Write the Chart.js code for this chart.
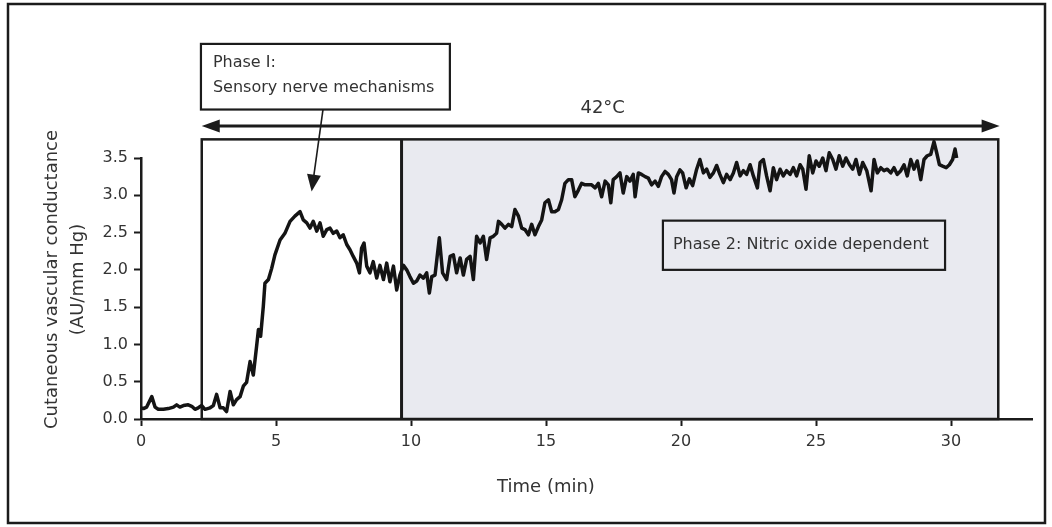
<!DOCTYPE html>
<html>
<head>
<meta charset="utf-8">
<script src="https://cdn.jsdelivr.net/npm/chart.js@4/dist/chart.umd.min.js"></script>
<style>
  html, body { margin:0; padding:0; background:#fff; }
  canvas { display:block; }
</style>
</head>
<body>
<canvas id="cvcChart" width="1052" height="527"></canvas>
<script>
'use strict';
// ---- Data ----
const timeMin = [
  0.00,0.09,0.21,0.40,0.52,0.64,0.83,1.01,1.20,1.32,1.44,1.57,1.75,1.88,2.00,2.12,2.25,2.37,2.56,2.68,
  2.80,2.93,3.05,3.17,3.30,3.42,3.54,3.67,3.79,3.91,4.04,4.16,4.28,4.35,4.43,4.53,4.59,4.72,4.84,4.96,
  5.15,5.33,5.52,5.70,5.89,6.01,6.14,6.26,6.38,6.51,6.63,6.75,6.88,7.00,7.12,7.25,7.37,7.49,7.62,7.74,
  7.86,7.99,8.09,8.17,8.26,8.36,8.48,8.60,8.73,8.85,8.98,9.10,9.22,9.35,9.47,9.59,9.72,9.84,
  9.96,10.09,10.21,10.33,10.46,10.58,10.68,10.77,10.89,11.05,11.17,11.32,11.45,11.57,11.69,11.82,11.94,12.06,12.19,12.31,
  12.43,12.56,12.68,12.80,12.93,13.05,13.17,13.24,13.36,13.48,13.61,13.73,13.85,13.98,14.10,14.22,14.35,14.47,14.59,14.72,
  14.84,14.96,15.09,15.21,15.33,15.46,15.58,15.70,15.83,15.95,16.07,16.20,16.32,16.45,16.57,16.69,16.82,16.94,17.06,17.19,
  17.31,17.40,17.49,17.62,17.74,17.86,17.99,18.11,18.23,18.30,18.42,18.54,18.67,18.79,18.91,19.04,19.16,19.28,19.41,19.53,
  19.65,19.74,19.84,19.96,
  20.06,20.19,20.31,20.43,20.58,20.70,20.83,20.95,21.07,21.20,21.32,21.44,21.57,21.69,21.82,21.94,22.06,22.19,22.31,22.43,
  22.56,22.68,22.83,22.93,23.05,23.17,23.30,23.42,23.54,23.67,23.79,23.91,24.04,24.16,24.28,24.41,24.51,24.63,24.75,24.88,
  25.00,25.12,25.25,25.37,25.49,25.62,25.74,25.86,25.99,26.11,26.24,26.36,26.48,26.61,26.73,26.88,27.04,27.15,27.27,27.40,
  27.52,27.64,27.77,27.89,28.01,28.14,28.26,28.38,28.51,28.63,28.75,28.88,29.00,29.12,29.25,29.37,29.47,29.57,29.69,29.82,
  29.94,30.06,30.15,30.21
];
const conductance = [
  0.15,0.14,0.16,0.30,0.16,0.13,0.13,0.14,0.16,0.19,0.16,0.18,0.19,0.17,0.13,0.15,0.18,0.13,0.15,0.18,
  0.33,0.15,0.15,0.10,0.37,0.19,0.26,0.30,0.44,0.49,0.77,0.59,0.97,1.20,1.11,1.51,1.82,1.87,2.02,2.20,
  2.40,2.49,2.65,2.72,2.78,2.67,2.63,2.56,2.65,2.52,2.63,2.45,2.54,2.56,2.49,2.52,2.43,2.47,2.34,2.27,
  2.18,2.09,1.96,2.29,2.36,2.05,1.96,2.11,1.89,2.06,1.87,2.09,1.84,2.05,1.73,1.93,2.06,2.00,
  1.91,1.82,1.85,1.93,1.89,1.96,1.69,1.91,1.93,2.43,1.96,1.87,2.18,2.20,1.96,2.16,1.93,2.14,2.18,1.87,
  2.45,2.36,2.45,2.14,2.43,2.45,2.49,2.65,2.61,2.56,2.61,2.58,2.81,2.72,2.56,2.54,2.47,2.61,2.47,2.58,
  2.67,2.90,2.94,2.78,2.78,2.81,2.94,3.16,3.21,3.21,2.98,3.07,3.16,3.14,3.14,3.14,3.10,3.16,2.98,3.19,
  3.14,2.90,3.21,3.25,3.30,3.03,3.25,3.19,3.28,2.98,3.30,3.28,3.25,3.23,3.14,3.19,3.12,3.25,3.32,3.28,
  3.21,3.03,3.25,3.34,
  3.30,3.10,3.22,3.13,3.35,3.48,3.30,3.35,3.24,3.30,3.40,3.28,3.17,3.28,3.21,3.30,3.44,3.26,3.33,3.28,
  3.41,3.26,3.10,3.44,3.48,3.26,3.06,3.37,3.21,3.35,3.26,3.33,3.28,3.37,3.26,3.41,3.35,3.08,3.53,3.30,
  3.46,3.39,3.50,3.33,3.57,3.48,3.35,3.53,3.39,3.50,3.41,3.35,3.48,3.28,3.44,3.33,3.06,3.48,3.30,3.37,
  3.33,3.35,3.30,3.37,3.28,3.33,3.41,3.26,3.48,3.35,3.46,3.21,3.48,3.53,3.55,3.72,3.57,3.41,3.39,3.37,
  3.41,3.48,3.62,3.50
];
const xTicks = [0, 5, 10, 15, 20, 25, 30];
const yTicks = [0, 0.5, 1.0, 1.5, 2.0, 2.5, 3.0, 3.5];

// phases (min) and annotation levels (AU/mm Hg)
const HEAT_START = 2.25, PHASE_SPLIT = 9.65, HEAT_END = 31.75;
const BOX_TOP = 3.75, ARROW_LEVEL = 3.93;

const INK = '#1b1b1b', TXT = '#333', SHADE = '#e9eaf0';
const FONT = "'DejaVu Sans', sans-serif";

// ---- Helpers ----
function arrowHead(ctx, x, y, ang, len, half) {
  ctx.save(); ctx.translate(x, y); ctx.rotate(ang);
  ctx.beginPath(); ctx.moveTo(0, 0); ctx.lineTo(-len, -half); ctx.lineTo(-len, half); ctx.closePath();
  ctx.fill(); ctx.restore();
}

// ---- Phase boxes, arrows, labels ----
const annotate = {
  id: 'annotate',
  beforeDatasetsDraw(chart) {
    const { ctx, scales:{ x, y } } = chart;
    const top = y.getPixelForValue(BOX_TOP), bot = y.getPixelForValue(0);
    const x0 = x.getPixelForValue(HEAT_START), x1 = x.getPixelForValue(PHASE_SPLIT), x2 = x.getPixelForValue(HEAT_END);
    ctx.save();
    ctx.fillStyle = SHADE; ctx.fillRect(x1, top, x2 - x1, bot - top);
    ctx.strokeStyle = INK;
    ctx.lineWidth = 2.5; ctx.strokeRect(x0, top, x2 - x0, bot - top);
    ctx.lineWidth = 3;
    ctx.beginPath(); ctx.moveTo(x1, top); ctx.lineTo(x1, bot); ctx.stroke();
    ctx.restore();
  },
  afterDraw(chart) {
    const { ctx, scales:{ x, y } } = chart;
    ctx.save();
    ctx.strokeStyle = INK; ctx.fillStyle = INK;

    // 42°C double arrow
    const ay = y.getPixelForValue(ARROW_LEVEL);
    const ax0 = x.getPixelForValue(HEAT_START), ax1 = x.getPixelForValue(HEAT_END + 0.05);
    ctx.lineWidth = 3;
    ctx.beginPath(); ctx.moveTo(ax0 + 10, ay); ctx.lineTo(ax1 - 10, ay); ctx.stroke();
    arrowHead(ctx, ax0, ay, Math.PI, 18, 6.5);
    arrowHead(ctx, ax1, ay, 0, 18, 6.5);
    ctx.fillStyle = TXT; ctx.font = `18px ${FONT}`;
    ctx.textAlign = 'center'; ctx.textBaseline = 'middle';
    ctx.fillText('42°C', (ax0 + ax1) / 2 + 2, ay - 18);

    // Phase I callout
    const bx0 = x.getPixelForValue(2.22), bx1 = x.getPixelForValue(11.44);
    const by0 = y.getPixelForValue(5.03), by1 = y.getPixelForValue(4.15);
    ctx.fillStyle = '#fff'; ctx.fillRect(bx0, by0, bx1 - bx0, by1 - by0);
    ctx.lineWidth = 2.2; ctx.strokeRect(bx0, by0, bx1 - bx0, by1 - by0);
    ctx.fillStyle = TXT; ctx.font = `16px ${FONT}`; ctx.textAlign = 'left';
    ctx.fillText('Phase I:', bx0 + 12, by0 + 19);
    ctx.fillText('Sensory nerve mechanisms', bx0 + 12, by0 + 44);
    const sx = x.getPixelForValue(6.74), sy = by1;
    const tx = x.getPixelForValue(6.32), ty = y.getPixelForValue(3.05);
    const ang = Math.atan2(ty - sy, tx - sx);
    ctx.lineWidth = 1.6;
    ctx.beginPath(); ctx.moveTo(sx, sy); ctx.lineTo(tx - 12 * Math.cos(ang), ty - 12 * Math.sin(ang)); ctx.stroke();
    ctx.fillStyle = INK; arrowHead(ctx, tx, ty, ang, 17, 7);

    // Phase 2 label box
    const px0 = x.getPixelForValue(19.33), px1 = x.getPixelForValue(29.78);
    const py0 = y.getPixelForValue(2.66), py1 = y.getPixelForValue(2.0);
    ctx.lineWidth = 2.2; ctx.strokeRect(px0, py0, px1 - px0, py1 - py0);
    ctx.fillStyle = TXT;
    ctx.fillText('Phase 2: Nitric oxide dependent', px0 + 10, (py0 + py1) / 2);

    // axis titles
    ctx.font = `18px ${FONT}`; ctx.textAlign = 'center';
    ctx.fillText('Time (min)', x.getPixelForValue(15), x.bottom - 40);
    const midY = (y.top + y.bottom) / 2 - 9;
    ctx.save();
    ctx.translate(y.left + 52, midY); ctx.rotate(-Math.PI / 2);
    ctx.fillText('Cutaneous vascular conductance', 0, 0);
    ctx.restore();
    ctx.save();
    ctx.translate(y.left + 78, midY); ctx.rotate(-Math.PI / 2);
    ctx.fillText('(AU/mm Hg)', 0, 0);
    ctx.restore();

    // outer frame
    ctx.strokeStyle = INK; ctx.lineWidth = 2.5;
    ctx.strokeRect(8, 4, 1037, 519);
    ctx.restore();
  }
};

// ---- Chart ----
Chart.defaults.font.family = FONT;
new Chart(document.getElementById('cvcChart').getContext('2d'), {
  type: 'line',
  data: {
    datasets: [{
      data: timeMin.map((t, i) => ({ x: t, y: conductance[i] })),
      borderColor: '#141414', borderWidth: 3.5, borderJoinStyle: 'round',
      pointRadius: 0, tension: 0, clip: false
    }]
  },
  options: {
    responsive: false, animation: false, devicePixelRatio: 1,
    layout: { padding: { top: 158, right: 20, bottom: 0, left: 0 } },
    plugins: { legend: { display: false }, tooltip: { enabled: false } },
    scales: {
      x: {
        type: 'linear', min: 0, max: 33,
        afterBuildTicks: s => { s.ticks = xTicks.map(v => ({ value: v })); },
        afterFit: s => { s.height = 108; },
        grid: { drawOnChartArea: false, tickLength: 7, tickWidth: 2, tickColor: INK },
        border: { display: true, color: INK, width: 2.5 },
        ticks: { color: TXT, font: { size: 16 }, padding: 6, maxRotation: 0 }
      },
      y: {
        min: 0, max: 3.5,
        afterBuildTicks: s => { s.ticks = yTicks.map(v => ({ value: v })); },
        afterFit: s => { s.width = 141; },
        grid: { drawOnChartArea: false, tickLength: 7, tickWidth: 2, tickColor: INK },
        border: { display: true, color: INK, width: 2.5 },
        ticks: { color: TXT, font: { size: 16 }, padding: 6, callback: v => v.toFixed(1) }
      }
    }
  },
  plugins: [annotate]
});
</script>
</body>
</html>
